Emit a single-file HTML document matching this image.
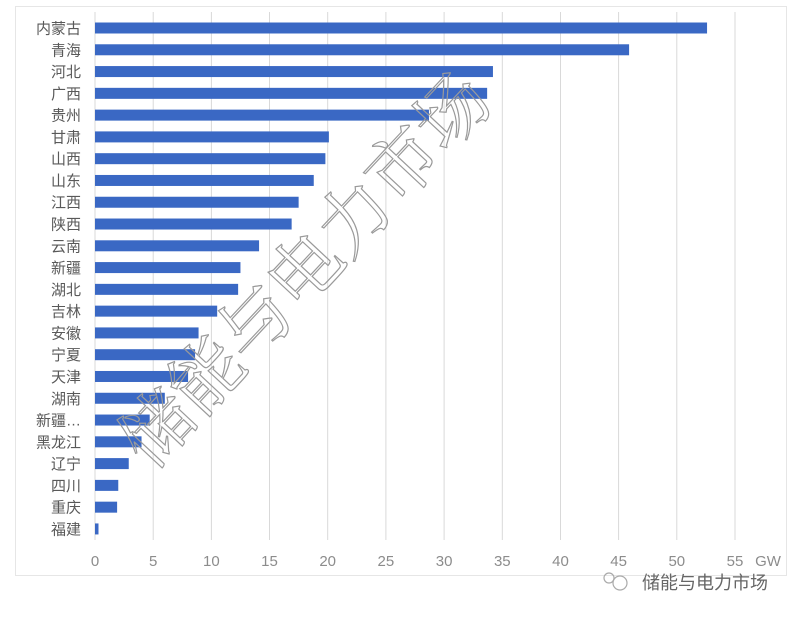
<!DOCTYPE html>
<html><head><meta charset="utf-8"><style>
body{margin:0;background:#fff;width:800px;height:617px;overflow:hidden}
</style></head><body>
<svg width="800" height="617" xmlns="http://www.w3.org/2000/svg" font-family="Liberation Sans, Noto Sans CJK SC, sans-serif">
<rect x="15.5" y="6.5" width="771" height="569" fill="#fff" stroke="#e6e6e6"/>
<g stroke="#d9d9d9" stroke-width="1">
<line x1="95" y1="12" x2="95" y2="540"/>
<line x1="153.2" y1="12" x2="153.2" y2="540"/>
<line x1="211.4" y1="12" x2="211.4" y2="540"/>
<line x1="269.5" y1="12" x2="269.5" y2="540"/>
<line x1="327.7" y1="12" x2="327.7" y2="540"/>
<line x1="385.9" y1="12" x2="385.9" y2="540"/>
<line x1="444.1" y1="12" x2="444.1" y2="540"/>
<line x1="502.3" y1="12" x2="502.3" y2="540"/>
<line x1="560.5" y1="12" x2="560.5" y2="540"/>
<line x1="618.6" y1="12" x2="618.6" y2="540"/>
<line x1="676.8" y1="12" x2="676.8" y2="540"/>
<line x1="735" y1="12" x2="735" y2="540"/>
</g>
<g fill="#3a68c4" id="bars"></g>
<g font-size="15" fill="#595959" text-anchor="end" id="labels"></g>
<g font-size="15" fill="#8c8c8c" text-anchor="middle">
<text x="95" y="566">0</text><text x="153.2" y="566">5</text><text x="211.4" y="566">10</text><text x="269.5" y="566">15</text><text x="327.7" y="566">20</text><text x="385.9" y="566">25</text><text x="444.1" y="566">30</text><text x="502.3" y="566">35</text><text x="560.5" y="566">40</text><text x="618.6" y="566">45</text><text x="676.8" y="566">50</text><text x="735" y="566">55</text><text x="768" y="566">GW</text>
</g>
<text x="305" y="295" font-family="Liberation Serif, Noto Serif CJK SC, serif" font-size="72" fill="none" stroke="#9a9a9a" stroke-width="1.2" text-anchor="middle" transform="rotate(-47 305 270)">储能与电力市场</text>
<g fill="none" stroke="#aaa" stroke-width="1.2"><circle cx="620" cy="583" r="7"/><circle cx="609" cy="578" r="5"/></g>
<text x="642" y="589" font-size="18" fill="#666">储能与电力市场</text>
</svg>
<script>
var d=[["内蒙古",52.6],["青海",45.9],["河北",34.2],["广西",33.7],["贵州",28.7],["甘肃",20.1],["山西",19.8],["山东",18.8],["江西",17.5],["陕西",16.9],["云南",14.1],["新疆",12.5],["湖北",12.3],["吉林",10.5],["安徽",8.9],["宁夏",8.6],["天津",8.0],["湖南",6.0],["新疆…",4.7],["黑龙江",4.0],["辽宁",2.9],["四川",2.0],["重庆",1.9],["福建",0.3]];
var b=document.getElementById("bars"),l=document.getElementById("labels"),ns="http://www.w3.org/2000/svg";
d.forEach(function(r,i){var cy=28+i*21.78;var e=document.createElementNS(ns,"rect");e.setAttribute("x",95);e.setAttribute("y",cy-5.5);e.setAttribute("width",r[1]*11.636);e.setAttribute("height",11);b.appendChild(e);
var t=document.createElementNS(ns,"text");t.setAttribute("x",81);t.setAttribute("y",cy+5.5);t.textContent=r[0];l.appendChild(t);});
</script>
</body></html>
